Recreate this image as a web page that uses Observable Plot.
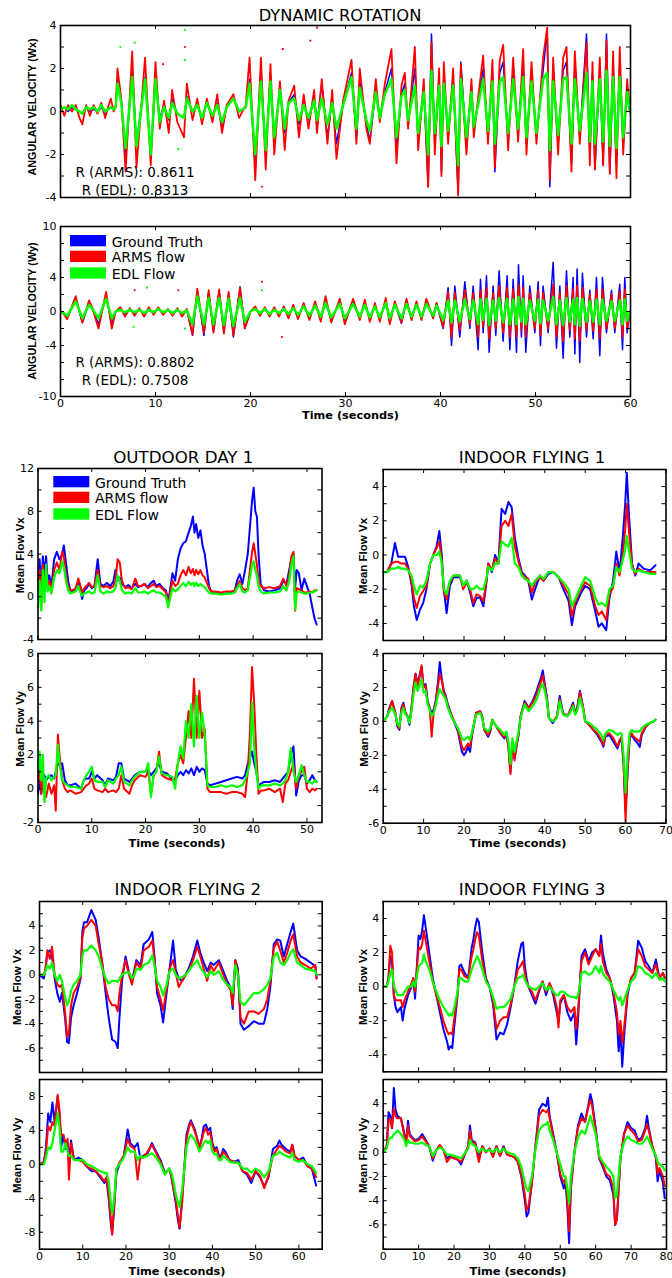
<!DOCTYPE html>
<html><head><meta charset="utf-8">
<script src="https://cdn.jsdelivr.net/npm/d3@7"></script>
<script src="https://cdn.jsdelivr.net/npm/@observablehq/plot@0.6"></script>
<style>
body{margin:0;background:#fff;}
#fig{position:relative;width:672px;height:1278px;background:#fff;font-family:"DejaVu Sans",sans-serif;}
</style></head>
<body><div id="fig"></div>
<script>
// ---------- DYNAMIC ROTATION : Wx ----------
const wxT = [0,0.4,0.8,1.2,1.6,2.0,2.3,2.7,3.1,3.5,3.9,4.3,4.7,5.0,5.3,5.6,
 5.8,6.0,6.4,6.85,7.55,8.0,8.9,9.5,10.0,10.45,
 10.9,11.4,11.75,12.3,13.0,13.3,13.9,14.4,14.9,15.4,
 16.0,16.5,17.0,17.5,18.2,18.8,19.5,19.9,20.5,21.1,
 21.6,22.1,22.5,23.1,23.6,24.0,24.6,25.1,25.6,26.1,
 26.7,27.0,27.5,28.1,28.6,
 29.05,29.75,30.63,31.15,31.5,32.2,32.56,33.19,33.61,34.14,
 34.84,35.37,35.89,36.24,36.59,37.3,37.65,38.24,38.7,39.05,
 39.4,39.86,40.1,40.35,40.8,41.33,41.86,42.14,42.73,43.26,
 43.5,44.0,44.49,45.0,45.47,45.72,46.24,46.6,47.12,47.65,48.17,
 48.7,49.05,49.58,50.1,50.8,51.23,51.51,51.86,52.38,52.91,
 53.26,53.79,54.14,54.66,55.37,55.72,56.0,56.25,56.77,57.12,
 57.47,57.82,58.17,58.52,58.87,59.23,59.65,59.93];
const wxGT = [0.1,0.2,0.0,0.2,0.1,0.0,-0.1,0.2,0.0,0.1,0.0,0.2,-0.1,0.1,0.2,0.1,
 0.2,1.5,0.5,-2.2,2.0,-1.5,1.6,-2.0,1.3,-0.3,
 0.3,-0.4,0.6,-0.1,-0.3,0.7,0.0,0.3,-0.4,0.4,
 -0.2,0.4,-0.8,0.2,0.6,0.0,0.2,1.5,-2.5,1.8,
 -2.0,1.7,-1.3,1.1,-1.0,0.4,0.8,-0.6,0.4,-0.4,
 0.6,-0.6,1.3,-1.2,0.6,
 -1.5,0.3,1.8,-1.2,1.4,-0.5,-1.4,1.0,-0.4,0.9,
 2.0,-1.8,0.8,1.3,-0.5,2.0,-1.4,1.1,-3.5,3.6,
 -1.5,1.5,-2.8,1.8,-1.2,1.5,-3.8,2.3,-1.6,1.2,
 -0.9,0.5,2.0,-1.2,1.8,-2.8,1.8,2.3,-1.4,1.9,-1.1,
 2.2,-1.5,1.8,-1.2,1.9,3.8,-3.5,1.9,-1.5,1.9,
 2.3,-2.4,2.1,-1.2,3.6,-1.9,1.8,-2.7,1.9,-2.5,
 3.6,-2.9,2.1,-2.5,2.3,-1.5,1.1,0.0];
const wxARMS = [0.3,-0.2,0.3,0.0,0.3,-0.3,-0.6,0.3,-0.2,0.3,-0.1,0.4,-0.3,0.2,0.6,0.0,
 0.2,2.0,0.6,-2.8,2.8,-2.6,2.5,-2.5,2.3,-0.8,
 0.5,-1.0,1.0,-0.5,-1.2,1.3,-0.4,0.6,-0.6,0.6,
 -0.5,0.8,-1.0,0.3,0.8,-0.3,0.3,2.5,-3.2,2.5,
 -2.7,2.2,-2.0,1.4,-1.8,0.5,1.2,-1.2,0.8,-0.8,
 1.0,-1.0,1.5,-1.5,1.0,
 -2.2,0.5,2.4,-1.5,2.0,-0.8,-1.5,1.5,-0.5,1.3,
 2.9,-2.4,1.2,1.8,-0.8,3.0,-1.8,1.5,-3.5,3.2,
 -2.0,2.0,-3.0,2.3,-1.5,2.0,-3.9,2.2,-2.0,1.5,
 -1.2,0.8,2.6,-1.5,2.4,-2.6,2.4,3.1,-1.8,2.5,-1.4,
 2.9,-2.0,2.3,-1.5,2.5,3.9,-3.2,2.5,-2.0,2.5,
 3.0,-2.8,2.8,-1.5,3.2,-2.5,2.3,-2.7,2.5,-2.5,
 3.3,-2.9,2.8,-3.1,3.0,-2.0,1.5,0.0];
const wxEDL = [0.1,0.2,0.1,0.3,0.1,0.0,-0.1,0.2,0.1,0.2,0.0,0.3,0.0,0.1,0.2,0.1,
 0.2,1.3,0.4,-1.7,1.6,-1.6,1.5,-2.0,1.5,-0.5,
 0.2,-0.3,0.4,-0.1,-0.3,0.6,0.0,0.3,-0.3,0.4,
 -0.2,0.3,-0.5,0.2,0.6,0.0,0.2,1.3,-2.0,1.4,
 -1.8,1.4,-1.2,1.0,-0.8,0.4,0.6,-0.4,0.3,-0.3,
 0.5,-0.4,0.6,-0.6,0.4,
 -0.8,0.3,1.6,-0.8,1.1,-0.4,-0.9,0.9,-0.3,0.8,
 1.5,-1.2,0.7,1.0,-0.4,1.2,-1.0,0.9,-2.0,1.9,
 -1.0,1.2,-1.6,1.3,-0.9,1.2,-2.5,1.5,-1.2,0.9,
 -0.7,0.4,1.5,-0.9,1.4,-1.5,1.4,1.6,-1.0,1.5,-0.8,
 1.6,-1.2,1.4,-1.0,1.5,1.8,-1.8,1.4,-1.1,1.5,
 1.6,-1.5,1.5,-0.9,1.8,-1.4,1.4,-1.5,1.5,-1.4,
 1.9,-1.6,1.6,-1.7,1.6,-1.2,0.9,0.0];
const wxRedDotT = [10.8,13.1,21.2,23.4,27.0,26.3];
const wxRedDotV = [2.2,3.0,-3.5,2.9,3.9,3.3];
const wxGreenDotT = [6.3,7.8,12.4,13.1,13.1];
const wxGreenDotV = [3.0,3.2,-1.75,3.8,2.4];

// ---------- DYNAMIC ROTATION : Wy ----------
const wyT = [0,0.35,0.7,1.6,2.3,3.0,3.3,4.0,4.8,5.4,5.8,
 6.3,6.8,7.3,7.8,8.3,8.8,9.3,9.8,10.3,10.8,11.3,11.8,12.3,12.8,13.3,
 13.9,14.4,15.1,15.6,16.1,16.7,17.2,17.7,18.2,18.9,19.4,20.0,
 20.5,21.0,21.5,22.0,22.5,23.0,23.5,24.0,24.5,25.0,25.6,26.2,26.8,27.4,27.9,28.5,
 29.4,29.93,30.8,31.5,32.03,32.56,33.1,33.61,34.24,34.66,
 35.19,35.89,36.42,36.95,37.47,38.0,38.52,39.23,39.58,40.28,
 40.8,41.16,41.51,42.03,42.56,43.09,43.44,43.96,44.21,44.49,
 44.84,45.12,45.54,45.82,46.17,46.59,47.01,47.3,47.65,48.0,
 48.21,48.52,48.7,48.98,49.4,49.93,50.28,50.52,50.8,51.33,
 51.86,52.21,52.56,52.91,53.26,53.61,53.96,54.14,54.38,54.66,
 54.94,55.37,55.72,56.07,56.42,56.77,57.05,57.47,58.0,58.35,
 58.87,59.16,59.4,59.65,59.93];
const wyGT = [0.0,-0.3,-0.7,1.5,-1.3,1.0,0.5,-1.5,1.8,-1.5,0.0,
 0.3,-0.3,0.2,-0.2,0.3,-0.4,0.2,-0.2,0.3,-0.2,0.2,-0.3,0.2,-0.3,0.1,
 -2.8,2.4,-2.8,2.3,-2.4,2.4,-2.5,2.1,-3.0,2.9,-2.0,0.0,
 0.4,-0.3,0.3,-0.4,0.3,-0.3,0.4,-0.5,0.5,-0.6,0.8,-0.8,0.9,-0.8,1.3,-1.0,
 1.2,-1.2,1.2,-0.8,1.1,-1.0,0.8,-1.0,1.3,-1.2,
 1.0,-1.4,1.2,-0.8,1.0,-0.9,1.2,-0.8,1.0,-2.0,
 2.8,-4.0,3.0,-3.0,3.5,-2.0,3.0,-4.5,3.8,-2.5,
 4.2,-4.8,3.0,-2.8,4.8,-3.5,4.2,-4.5,3.8,-4.8,
 5.5,-3.0,4.2,-4.8,3.0,-2.5,3.5,-4.0,3.0,-2.5,
 5.8,-4.3,3.0,-5.5,4.8,-3.0,4.0,-5.0,5.0,-6.0,
 4.5,-3.0,2.5,-3.2,4.0,-5.2,4.0,-2.5,2.5,-2.5,
 3.2,-4.5,4.0,-2.5,0.0];
const wyARMS = [0.0,-0.3,-0.9,1.8,-1.3,1.3,0.6,-2.0,2.3,-2.0,0.0,
 0.5,-0.6,0.4,-0.5,0.4,-0.6,0.5,-0.4,0.5,-0.4,0.3,-0.5,0.4,-0.6,0.3,
 -2.7,2.7,-2.5,2.5,-2.5,2.6,-2.6,2.3,-2.8,2.8,-2.0,0.0,
 0.6,-0.5,0.5,-0.6,0.5,-0.6,0.6,-0.8,0.8,-0.9,1.0,-1.0,1.2,-1.2,1.8,-1.3,
 1.5,-1.5,1.5,-1.0,1.4,-1.2,1.0,-1.2,1.6,-1.5,
 1.2,-1.3,1.5,-1.0,1.2,-1.0,1.5,-0.8,1.0,-1.8,
 2.3,-3.0,2.2,-2.2,2.5,-1.5,2.2,-3.0,2.5,-1.8,
 2.8,-3.2,2.2,-2.0,3.0,-2.5,2.8,-3.0,2.6,-3.0,
 3.2,-2.2,2.8,-3.0,2.2,-2.0,2.5,-2.8,2.2,-2.0,
 3.2,-3.0,2.2,-3.5,3.0,-2.2,2.6,-3.2,3.0,-3.5,
 2.8,-2.2,2.0,-2.3,2.6,-3.2,2.6,-2.0,2.0,-2.0,
 2.3,-3.0,2.6,-2.0,0.0];
const wyEDL = [0.0,-0.2,-0.5,1.2,-0.8,0.8,0.4,-0.8,1.5,-0.8,0.0,
 0.2,-0.1,0.2,-0.1,0.2,-0.2,0.2,-0.1,0.3,-0.1,0.2,-0.2,0.2,-0.2,0.1,
 -1.5,1.8,-1.5,1.6,-1.5,1.6,-1.6,1.5,-1.7,1.6,-1.2,0.0,
 0.3,-0.2,0.3,-0.3,0.2,-0.2,0.3,-0.3,0.4,-0.4,0.6,-0.5,0.7,-0.6,1.0,-0.7,
 0.9,-0.8,0.9,-0.6,0.8,-0.7,0.6,-0.7,1.0,-0.8,
 0.8,-0.8,0.9,-0.6,0.8,-0.6,0.9,-0.5,0.7,-1.0,
 1.3,-1.3,1.3,-1.2,1.4,-0.9,1.3,-1.5,1.4,-1.0,
 1.5,-1.6,1.3,-1.1,1.6,-1.3,1.5,-1.5,1.4,-1.5,
 1.7,-1.2,1.5,-1.5,1.3,-1.1,1.4,-1.4,1.3,-1.1,
 1.7,-1.5,1.3,-1.6,1.6,-1.2,1.4,-1.5,1.6,-1.7,
 1.5,-1.2,1.2,-1.2,1.4,-1.5,1.4,-1.1,1.2,-1.1,
 1.3,-1.5,1.4,-1.1,0.0];
const wyRedDotT = [7.8,12.4,21.2,23.3];
const wyRedDotV = [2.5,2.5,3.5,-3.0];
const wyGreenDotT = [7.7,9.1,13.1,21.2];
const wyGreenDotV = [-1.8,2.8,-2.0,2.5];

// ---------- OUTDOOR DAY 1 ----------
const od1VxT = [0,0.3,0.6,0.9,1.2,1.5,1.8,2.1,2.5,3.0,
 3.5,4.0,4.5,4.8,5.2,5.6,6.0,6.5,7.0,7.5,
 7.8,8.2,8.6,9.0,9.5,10.0,10.5,11.1,11.6,12.2,
 12.8,13.4,14.0,14.4,14.8,15.2,15.6,16.2,16.8,17.4,
 18.1,18.6,19.2,19.8,20.4,21.0,21.5,22.0,22.6,23.2,
 23.8,24.2,24.6,25.0,25.5,26.0,26.5,27.0,27.5,28.0,
 28.4,28.8,29.1,29.4,29.8,30.2,30.6,31.0,31.4,31.8,
 32.2,33.0,34.0,35.0,36.0,36.6,37.0,37.5,38.0,38.5,
 39.0,39.4,39.8,40.1,40.4,40.7,41.0,41.4,42.0,43.0,
 44.0,45.0,45.6,46.2,46.7,47.1,47.5,47.8,48.1,48.5,
 49.0,49.5,50.0,50.5,51.0,51.4,51.8];
const od1VxGT = [1.5,3.5,0.5,3.8,2.0,3.8,1.5,2.0,1.0,3.5,
 4.2,3.5,4.0,4.8,3.2,1.5,0.6,0.5,0.8,1.2,
 1.0,-0.2,0.6,0.8,1.2,0.8,1.0,3.5,1.2,1.0,
 1.3,1.0,1.4,2.5,1.5,1.8,1.2,0.9,1.1,0.8,
 1.2,0.9,1.0,1.2,0.9,1.3,1.5,1.0,1.2,0.8,
 0.6,-0.5,0.8,2.2,1.5,3.5,4.5,5.0,5.2,6.0,
 6.6,7.5,6.0,6.8,5.5,6.2,4.8,4.0,2.5,1.0,
 0.5,0.4,0.3,0.3,0.4,0.6,1.5,2.1,1.2,2.5,
 4.0,6.5,9.0,10.2,8.0,7.5,4.0,1.2,0.6,0.5,
 0.6,0.8,1.5,1.2,2.5,3.5,4.0,0.8,2.5,2.2,
 0.6,1.7,1.0,0.3,-1.0,-2.0,-2.6];
const od1VxARMS = [0.5,2.5,-1.0,3.0,0.5,2.8,0.8,1.5,0.5,2.5,
 3.2,2.5,4.2,3.8,2.0,1.0,0.6,0.6,0.8,1.7,
 1.2,0.4,0.8,1.0,1.3,0.9,1.0,2.5,1.0,0.9,
 1.0,0.8,1.0,1.5,3.5,3.2,1.5,0.8,0.9,0.7,
 1.7,1.0,1.0,1.2,0.8,1.0,1.2,0.9,1.0,0.7,
 0.4,-0.8,0.5,1.5,1.0,1.2,2.0,2.5,2.0,2.8,
 2.2,2.6,2.0,2.5,2.1,2.5,2.0,1.8,1.3,0.8,
 0.5,0.5,0.4,0.5,0.5,0.6,1.0,1.5,0.8,0.6,
 0.8,2.5,4.2,5.0,4.0,3.0,1.5,1.0,0.8,0.9,
 0.8,1.0,1.7,1.0,2.0,3.8,4.2,-1.3,0.8,0.7,
 0.6,0.4,0.4,0.5,0.4,0.6,0.6];
const od1VxEDL = [-1.0,1.5,-1.3,2.5,-0.5,3.0,0.5,1.0,0.3,1.8,
 2.5,2.2,3.3,2.8,1.5,0.6,0.3,0.4,0.5,1.0,
 0.5,0.1,0.3,0.4,0.5,0.3,0.4,2.0,0.5,0.3,
 0.5,0.4,0.5,0.8,2.0,1.5,0.6,0.3,0.4,0.3,
 0.8,0.4,0.4,0.5,0.3,0.5,0.6,0.4,0.4,0.2,
 0.0,-1.0,0.0,0.8,0.5,0.7,1.0,1.3,1.0,1.4,
 1.1,1.3,1.0,1.3,1.0,1.2,1.0,0.9,0.6,0.4,
 0.3,0.3,0.2,0.3,0.3,0.4,0.8,1.2,0.5,0.4,
 0.6,1.8,3.0,3.3,2.5,2.0,1.0,0.5,0.3,0.4,
 0.4,0.5,1.0,0.6,1.5,3.0,3.8,-1.2,0.4,0.5,
 0.4,0.3,0.3,0.4,0.4,0.5,0.6];

const od1VyT = [0,0.3,0.6,0.9,1.2,1.5,2.0,2.5,3.0,3.3,
 3.7,4.0,4.5,5.0,5.5,6.0,7.0,8.0,8.5,9.0,
 9.5,10.0,10.5,11.0,12.0,12.5,13.0,14.0,14.5,15.0,
 15.5,16.0,17.0,17.5,18.0,19.0,20.0,20.5,21.0,21.5,
 22.0,22.5,23.0,24.0,25.0,25.5,26.0,26.5,27.0,27.5,
 28.0,28.5,29.0,29.5,30.0,30.5,31.0,31.5,32.0,33.0,
 34.0,35.0,36.0,37.0,38.0,38.5,39.0,39.4,39.8,40.2,
 40.6,41.0,41.5,42.0,43.0,44.0,45.0,45.5,46.0,46.5,
 47.0,47.5,48.0,48.5,49.0,49.5,50.0,50.5,51.0,51.5,
 51.8];
const od1VyGT = [-0.3,0.5,-0.3,0.6,0.8,0.5,0.7,0.8,0.6,1.0,
 1.5,1.4,1.5,0.5,0.2,0.2,0.3,0.0,0.5,0.6,
 0.6,1.0,0.6,0.8,0.5,0.2,0.6,0.5,0.7,1.5,
 1.5,0.6,0.4,0.6,0.8,1.0,1.0,1.1,0.8,1.0,
 1.2,1.5,1.0,0.9,0.5,0.5,0.8,1.0,0.8,1.1,
 0.9,1.2,0.8,1.3,1.0,1.2,1.1,0.3,0.2,0.3,
 0.4,0.5,0.6,0.7,0.6,0.8,1.5,1.8,2.2,1.5,
 1.0,0.2,0.3,0.4,0.4,0.5,0.4,0.6,0.8,1.0,
 2.0,2.5,-0.4,0.5,0.8,0.8,0.3,0.5,0.8,0.5,
 0.4];
const od1VyARMS = [0.2,2.0,-0.3,0.8,0.0,-0.5,0.3,-0.3,0.2,-1.3,
 3.2,2.0,0.5,0.0,-0.2,-0.1,-0.3,-0.2,0.0,0.2,
 0.3,0.6,0.0,-0.1,-0.2,0.0,-0.2,-0.1,-0.2,0.0,
 0.8,0.0,-0.3,0.2,0.5,0.8,0.7,1.0,-0.3,0.8,
 1.0,2.2,0.8,0.6,0.5,0.6,1.5,2.0,1.5,3.0,
 4.6,3.0,6.5,3.0,5.8,3.0,3.5,0.0,-0.2,-0.2,
 -0.2,-0.3,-0.2,-0.2,-0.3,-0.5,1.0,3.3,7.2,5.0,
 2.0,-0.3,-0.1,-0.1,0.0,-0.2,0.0,-0.8,0.3,0.5,
 1.0,1.5,0.0,0.8,1.0,1.3,0.0,-0.2,0.0,-0.1,
 0.0];
const od1VyEDL = [1.0,2.2,0.5,2.0,-0.8,0.6,0.8,0.5,0.7,0.8,
 2.6,1.5,0.5,0.3,0.2,0.1,0.1,0.0,0.5,0.8,
 1.0,1.3,0.5,0.4,0.4,0.1,0.5,0.3,0.6,0.8,
 1.3,0.4,0.2,0.5,0.7,1.0,1.0,1.5,-0.5,0.8,
 1.0,1.9,0.9,0.8,0.7,0.0,1.5,2.5,1.8,4.0,
 3.0,5.0,2.5,5.5,3.0,4.5,3.2,0.2,0.1,0.1,
 0.2,0.1,0.2,0.1,0.2,0.5,1.0,1.5,5.1,2.5,
 1.0,0.0,0.2,0.2,0.2,0.3,0.2,0.3,0.5,1.0,
 2.4,1.0,0.4,0.8,1.4,0.8,0.4,0.4,0.3,0.5,
 0.4];

// ---------- INDOOR FLYING 1 ----------
const if1VxT = [0,1,2,2.9,3.7,4.5,5.4,6.2,7,7.6,
 8.3,9.1,9.9,10.7,11.6,12.4,13.2,13.9,14.5,15,
 15.7,16.5,17.4,18.2,19,19.8,20.7,21.5,22.3,23.1,
 24,24.8,25.6,26,26.9,27.7,28.5,29.3,30.2,31,
 31.8,32.6,33.5,34.3,35.1,35.9,36.8,37.6,38.8,39.7,
 40.9,42.1,43.4,44.6,45.9,46.7,47.5,48.8,50,51.2,
 52.5,53.3,54.1,55.2,56,56.9,57.7,58.5,59.3,59.9,
 60.3,60.8,61.6,62.4,63.2,64.5,66.1,67.4];
const if1VxGT = [-1.0,-1.0,-0.5,0.7,-0.1,-0.1,-0.1,-0.7,-1.7,-3.0,
 -3.8,-3.2,-2.8,-2.0,-0.5,0.0,0.5,1.4,0.0,-2.0,
 -3.4,-1.8,-1.3,-1.3,-1.3,-1.8,-1.5,-2.2,-3.0,-2.5,
 -2.5,-3.0,-1.5,-0.5,-1.0,0.0,-0.5,2.7,2.4,3.1,
 2.8,1.0,-0.2,-1.0,-1.2,-1.5,-2.6,-2.0,-1.2,-1.5,
 -1.1,-1.0,-1.3,-2.0,-2.7,-4.1,-3.0,-2.3,-1.8,-2.0,
 -3.3,-4.2,-4.0,-4.4,-2.5,-1.5,0.2,-1.0,1.0,3.0,
 4.8,2.5,-0.5,-1.2,-0.5,-0.8,-0.9,-0.6];
const if1VxARMS = [-1.0,-1.0,-0.5,-0.4,-0.4,-0.5,-0.5,-0.8,-1.5,-2.5,
 -3.1,-2.4,-2.1,-1.8,-0.5,0.0,0.4,0.8,-0.3,-2.1,
 -2.6,-1.6,-1.2,-1.2,-1.2,-2.0,-1.6,-2.0,-2.8,-2.3,
 -2.4,-2.7,-1.4,-0.5,-0.9,-0.2,-0.5,1.7,2.0,1.7,
 2.4,0.5,-0.4,-1.1,-1.3,-1.4,-2.2,-1.6,-1.3,-1.5,
 -1.0,-1.0,-1.3,-1.8,-2.3,-3.6,-2.8,-2.1,-1.6,-1.8,
 -3.0,-3.5,-3.3,-3.8,-2.3,-1.9,-0.5,-1.2,0.0,1.5,
 3.0,1.5,-0.6,-1.1,-0.8,-1.0,-1.0,-1.0];
const if1VxEDL = [-1.0,-1.0,-0.8,-0.8,-0.7,-0.8,-0.8,-0.9,-1.2,-1.8,
 -2.3,-1.8,-1.9,-1.5,-0.5,0.0,0.0,0.2,-0.5,-2.0,
 -2.3,-1.5,-1.2,-1.2,-1.2,-1.8,-1.5,-2.0,-2.0,-1.8,
 -2.0,-2.0,-1.3,-0.7,-0.9,-0.5,-0.5,0.8,0.6,0.5,
 1.0,-0.5,-0.7,-1.2,-1.4,-1.5,-1.8,-1.5,-1.2,-1.4,
 -1.0,-1.0,-1.3,-1.6,-2.0,-3.0,-2.6,-1.9,-1.3,-1.5,
 -2.5,-2.9,-2.8,-3.0,-2.0,-1.8,-0.7,-1.0,-0.3,0.3,
 1.1,0.3,-0.8,-1.0,-0.9,-1.0,-1.1,-1.1];

const if1VyT = [0,1,1.5,2.2,3,3.5,4,4.5,5,5.5,
 6,6.5,7,7.5,8,8.5,9,9.5,10,10.5,
 11,11.5,12,12.5,13,13.5,14,14.5,15,15.5,
 16,17,18,18.5,19,19.5,20,20.5,21,21.5,
 22,23,24,24.5,25,26,26.5,27,28,29,
 30,30.5,31,31.5,32,32.5,33,33.5,34,35,
 36,37,38,38.5,39,39.5,40,40.5,41,42,
 43,43.7,44.5,45.5,46,47,47.5,48,48.7,49.5,
 50,51,52,53,54,54.5,55,56,57,58,
 58.5,59,59.5,60,60.5,61,61.5,62,63,63.5,
 64,65,66,67,67.4];
const if1VyGT = [0.0,0.3,0.8,1.2,0.5,-0.3,-0.5,0.8,1.1,0.5,
 0.3,-0.2,0.8,2.0,2.8,2.2,2.7,3.2,2.0,2.2,
 1.2,0.8,0.5,0.7,1.2,2.2,3.5,2.5,1.8,1.5,
 1.0,0.3,-0.3,-0.6,-1.2,-1.8,-2.0,-1.8,-1.5,-1.8,
 -0.8,0.5,0.6,0.3,-0.5,-0.9,-0.6,0.1,-0.3,-0.7,
 -1.0,-0.7,-1.5,-3.0,-1.2,-2.2,-1.5,-0.8,0.3,1.2,
 0.8,1.2,1.8,2.2,2.5,3.0,2.2,1.5,0.2,-0.1,
 0.3,1.5,0.5,0.3,0.5,1.1,0.5,0.8,1.8,0.8,
 0.0,-0.2,-0.5,-0.8,-1.2,-1.5,-0.9,-0.8,-1.2,-1.6,
 -1.2,-1.0,-2.5,-5.3,-3.0,-1.0,-0.8,-1.0,-1.3,-1.5,
 -0.8,-0.3,-0.1,0.0,0.1];
const if1VyARMS = [0.0,0.3,0.7,1.2,0.5,-0.2,-0.4,0.7,1.0,0.5,
 0.3,-0.1,0.8,2.0,2.8,2.1,2.6,3.3,2.0,2.1,
 1.1,0.8,-0.9,0.6,1.1,2.0,2.8,2.4,1.7,1.4,
 0.9,0.3,-0.2,-0.5,-1.0,-1.5,-1.7,-1.5,-1.3,-1.5,
 -0.7,0.5,0.6,0.3,-0.5,-0.8,-0.5,0.1,-0.3,-0.7,
 -0.9,-0.7,-1.5,-3.1,-1.2,-2.3,-1.4,-0.8,0.3,1.1,
 0.8,1.1,1.6,2.0,2.3,2.7,2.0,1.4,0.2,0.0,
 0.3,1.3,0.5,0.3,0.5,1.0,0.5,0.7,1.7,0.8,
 0.0,-0.2,-0.5,-0.7,-1.1,-1.4,-0.8,-0.7,-1.0,-1.5,
 -1.1,-0.9,-2.5,-5.9,-2.8,-0.9,-0.7,-0.9,-1.1,-1.2,
 -0.7,-0.3,-0.1,0.0,0.1];
const if1VyEDL = [0.0,0.3,0.6,0.8,0.4,-0.1,-0.3,0.5,0.8,0.4,
 0.3,-0.1,0.6,1.6,2.3,1.8,2.1,2.5,1.7,1.8,
 1.0,0.7,0.3,0.5,0.9,1.5,1.9,1.7,1.5,1.3,
 0.8,0.2,-0.2,-0.4,-0.7,-1.0,-1.1,-1.0,-0.9,-1.1,
 -0.6,0.4,0.5,0.2,-0.4,-0.6,-0.4,0.1,-0.3,-0.5,
 -0.8,-0.6,-1.2,-2.5,-1.0,-1.8,-1.2,-0.6,0.2,1.0,
 0.6,0.9,1.3,1.7,2.0,2.2,1.8,1.2,0.2,0.0,
 0.2,1.2,0.4,0.3,0.4,0.9,0.4,0.6,1.4,0.7,
 0.0,-0.1,-0.3,-0.5,-0.8,-1.1,-0.7,-0.5,-0.6,-0.8,
 -0.7,-0.7,-2.0,-4.2,-2.0,-0.7,-0.5,-0.6,-0.6,-0.6,
 -0.4,-0.2,-0.1,0.0,0.1];

// ---------- INDOOR FLYING 2 ----------
const if2VxT = [0,1,1.4,1.8,2.4,2.9,3.5,4.1,4.7,5.2,
 5.9,6.4,6.8,7.3,7.9,8.7,9.5,9.9,10.3,11,
 12,13,13.7,14.5,15.3,16,16.8,17.6,18.1,18.5,
 19.1,19.9,20.7,21.4,22,22.4,23.4,24.1,25.3,26.1,
 26.6,27.2,28,28.6,29.4,30.1,30.9,31.5,32.2,33,
 33.8,34.5,35.5,36.5,37.2,38,38.8,39.6,40.3,41.5,
 42.3,43.4,44.2,44.7,45.3,45.9,46.5,47.3,48.4,49.6,
 50.7,51.9,52.7,53.4,54.2,55,55.7,56.5,57.3,58.1,
 58.7,59.6,60.4,61.5,62.7,63.8,64.1];
const if2VxGT = [0.0,-0.3,0.5,1.8,2.0,1.5,-0.3,-1.5,-2.2,-1.5,
 -3.5,-5.5,-5.6,-3.5,-2.5,-1.5,-0.3,3.5,4.3,4.3,
 5.3,4.5,3.0,1.0,-1.5,-3.5,-5.3,-5.5,-6.0,-3.5,
 -0.5,1.5,0.2,-0.5,0.5,1.2,0.8,2.5,2.9,3.5,
 1.5,-1.5,-2.5,-3.9,-1.5,0.5,2.8,0.5,-0.3,-0.5,
 0.0,0.5,1.5,2.8,1.8,1.0,0.3,1.0,0.8,1.2,
 0.5,-0.5,-1.0,-2.8,1.2,0.5,-4.0,-4.5,-4.2,-3.8,
 -4.0,-4.0,-2.8,-1.0,2.5,2.9,2.8,1.5,2.5,3.5,
 4.2,2.0,1.5,1.3,1.0,0.7,-0.3];
const if2VxARMS = [0.0,0.0,0.5,2.0,1.3,2.3,0.0,-0.8,-1.0,-0.8,
 -3.0,-5.1,-4.8,-2.5,-1.5,-1.0,-0.2,3.0,3.8,4.0,
 4.5,4.0,2.5,1.0,-1.0,-2.0,-2.5,-2.5,-3.0,-1.5,
 0.0,1.2,0.0,-0.8,0.3,1.0,0.5,2.0,2.3,2.8,
 1.2,-1.0,-2.0,-2.9,-1.2,0.5,1.2,0.2,-1.0,-0.5,
 0.0,0.3,1.2,2.3,1.5,0.5,-0.5,0.8,0.3,1.0,
 0.2,-0.8,-1.2,-2.5,1.2,0.3,-3.5,-4.0,-3.0,-3.0,
 -3.2,-2.8,-2.0,-0.5,2.2,2.7,2.0,1.0,1.8,2.8,
 3.3,1.5,1.0,0.8,0.5,0.8,-0.3];
const if2VxEDL = [0.0,0.0,0.3,0.8,0.5,1.0,0.0,-0.5,0.0,-0.5,
 -1.8,-2.5,-2.2,-1.3,-0.8,-0.5,0.0,1.5,2.0,2.0,
 2.4,2.0,1.5,0.5,-0.3,-0.7,-0.5,-0.5,-0.6,-0.3,
 0.0,0.2,0.2,-0.3,0.0,0.5,0.4,0.8,1.0,1.6,
 0.8,-0.5,-1.0,-1.7,-0.8,0.3,0.5,0.0,-0.3,-0.2,
 0.0,0.3,0.8,1.2,0.6,0.2,-0.2,0.3,0.0,0.3,
 -0.3,-0.8,-1.0,-1.5,0.8,0.0,-2.2,-2.5,-2.0,-1.5,
 -1.5,-1.2,-0.8,-0.3,1.5,1.8,1.0,0.8,1.2,1.8,
 2.1,1.0,0.8,0.5,0.4,0.3,0.0];

const if2VyT = [0,1,1.5,2,2.5,3,3.5,4.2,4.6,5,
 5.5,6,6.5,6.8,7.3,8,9,10,11,12,
 13,14,15,15.5,16,16.5,16.8,17.3,17.8,18.5,
 19.5,20.4,21,22,22.7,23.3,24,25,26,27,
 28,29,29.5,30,30.5,31,31.5,32,32.4,33,
 33.5,34,34.5,35,36,37,37.5,38,38.5,39,
 39.5,40,40.5,41,41.5,42,42.5,43,44,45,
 46,47,48,49,50,51,52,53,54,55,
 55.5,56,57,58,58.5,59,60,61,62,63,
 64];
const if2VyGT = [0.0,0.3,2.0,6.0,5.0,7.3,5.0,8.0,6.0,2.0,
 3.5,1.8,2.5,0.5,2.8,0.5,0.8,0.5,-0.3,-0.8,
 -0.8,-1.5,-2.2,-1.8,-4.0,-7.0,-8.2,-5.0,-1.0,0.0,
 1.0,4.1,2.5,2.0,2.5,0.8,1.0,1.3,2.5,1.5,
 0.5,-1.0,-0.8,-0.5,-1.5,-3.0,-4.5,-6.5,-7.6,-4.0,
 -0.5,3.5,4.5,5.2,4.0,2.0,3.0,4.5,4.7,4.0,
 4.3,2.5,1.8,2.0,1.0,1.0,1.8,1.5,0.5,0.3,
 0.5,-0.8,-1.2,-2.2,-0.8,-1.5,-2.6,-1.5,1.8,2.2,
 2.8,2.3,1.8,1.5,2.3,1.0,0.5,0.8,-0.2,-0.5,
 -2.5];
const if2VyARMS = [0.0,0.3,1.5,4.5,4.0,5.0,4.5,8.2,6.5,3.5,
 3.5,2.5,3.0,-1.8,2.5,0.5,0.5,0.3,-0.3,-0.5,
 -0.8,-1.3,-2.0,-1.5,-3.5,-6.5,-8.3,-4.5,-0.5,0.2,
 1.0,3.0,2.2,1.8,-1.8,0.8,0.8,1.5,2.3,1.3,
 0.3,-1.2,-0.8,-0.5,-1.3,-2.8,-4.0,-6.0,-7.5,-4.5,
 -0.5,3.0,4.2,5.0,3.8,2.0,2.8,3.8,4.3,3.5,
 3.8,2.2,1.5,1.8,0.8,0.8,1.5,1.2,0.5,0.3,
 0.2,-0.8,-1.0,-1.8,-0.8,-1.3,-2.8,-1.3,1.0,1.8,
 2.2,2.0,1.5,1.3,2.3,1.0,0.5,0.5,-0.2,-0.5,
 -1.5];
const if2VyEDL = [0.0,0.0,0.8,2.0,1.8,2.5,4.0,6.0,4.5,1.5,
 1.5,2.5,1.5,1.0,1.0,0.5,0.5,0.5,0.0,-0.2,
 -0.5,-0.8,-1.0,-1.0,-2.0,-4.5,-5.8,-4.0,-0.5,0.0,
 0.8,2.0,1.5,1.5,0.5,1.0,0.8,1.0,1.3,0.8,
 0.0,-1.2,-0.8,-0.5,-1.0,-2.0,-3.5,-4.5,-5.0,-3.0,
 -0.5,2.0,3.0,3.5,2.8,1.5,2.0,2.5,2.8,2.5,
 2.8,1.5,1.2,1.2,0.5,0.5,1.0,0.8,0.3,0.2,
 0.2,-0.5,-0.5,-1.0,-0.5,-0.8,-1.5,-0.8,1.0,1.2,
 1.5,1.3,1.0,0.8,1.3,0.5,0.3,0.5,0.0,-0.2,
 -1.0];

// ---------- INDOOR FLYING 3 ----------
const if3VxT = [0,1,1.5,2,2.5,3,3.5,4,5,5.5,
 6,7,8,8.5,9,10,10.5,11,11.5,12,
 13,14,15,16,17,18,18.5,19,19.5,20,
 21,21.5,22,23,24,25,25.5,26,26.5,27,
 28,29,30,31,32,33,34,35,36,37,
 38,39,39.5,40,40.5,41,42,43,44,45,
 46,47,48,49,49.5,50,51,52,53,54,
 54.5,55,55.5,56,57,58,59,60,61,61.5,
 62,63,64,65,66,66.5,67,67.5,68,69,
 70,71,72,73,74,75,76,77,78,79,
 79.5];
const if3VxGT = [0.0,0.0,0.5,1.8,1.5,-0.5,-1.2,-1.5,-1.2,-2.0,
 -1.3,-0.5,0.0,0.5,-0.7,3.0,2.8,3.3,4.2,3.5,
 2.0,0.5,-0.5,-1.5,-2.5,-3.2,-3.7,-3.5,-3.6,-2.5,
 -0.5,1.2,1.3,0.8,0.5,2.3,2.8,3.5,4.0,3.8,
 2.0,0.5,0.0,-1.0,-3.1,-2.7,-2.8,-2.2,-1.2,0.0,
 1.5,2.5,2.6,1.2,0.5,0.0,-0.5,-1.0,-0.3,0.3,
 -0.5,0.2,-0.5,-1.5,-2.0,-1.0,-0.5,-1.5,-2.0,-1.5,
 -3.4,-2.0,0.0,1.8,2.2,1.5,2.0,2.2,1.8,3.0,
 2.0,1.0,0.5,-0.5,-2.0,-3.8,-2.5,-4.7,-3.0,-0.5,
 0.5,0.8,2.7,2.3,1.5,1.2,0.8,1.6,0.5,0.8,
 0.5];
const if3VxARMS = [0.0,0.0,0.5,2.4,2.0,-0.5,-0.8,-0.8,-0.8,-1.2,
 -0.8,-0.3,0.2,0.5,-0.3,2.3,2.2,2.5,3.3,2.7,
 1.5,0.3,-0.5,-1.2,-2.0,-2.6,-2.8,-2.7,-2.8,-2.0,
 -0.4,1.0,1.0,0.6,0.5,1.8,2.2,2.8,3.2,3.0,
 1.5,0.4,0.0,-0.8,-2.5,-2.0,-1.8,-1.8,-1.0,0.0,
 1.0,1.3,1.5,0.8,0.3,0.0,-0.3,-0.8,-0.2,0.3,
 -0.3,0.2,-0.3,-1.2,-2.4,-0.8,-0.5,-1.2,-1.5,-1.2,
 -2.5,-1.5,0.0,1.5,2.0,1.3,1.8,2.2,1.8,2.5,
 1.5,0.8,0.5,-0.3,-1.5,-2.8,-2.0,-3.3,-2.5,-0.3,
 0.5,0.8,2.2,1.8,1.2,1.0,0.8,1.3,0.5,0.8,
 0.5];
const if3VxEDL = [0.0,0.0,0.3,0.8,1.0,0.0,-0.2,-0.5,-0.5,-0.5,
 -0.3,0.0,0.0,0.3,0.0,1.2,1.3,1.4,1.9,1.5,
 1.0,0.3,-0.3,-0.8,-1.2,-1.5,-1.7,-1.6,-1.7,-1.3,
 -0.3,0.5,0.5,0.3,0.3,1.0,1.3,1.5,1.8,1.6,
 1.0,0.3,0.0,-0.6,-1.3,-1.2,-1.2,-1.0,-0.7,0.0,
 0.5,0.6,0.7,0.4,0.2,0.0,-0.1,-0.2,0.0,0.2,
 -0.2,0.0,-0.3,-0.5,-0.5,-0.3,-0.3,-0.5,-0.6,-0.6,
 -0.7,-0.5,0.0,0.8,0.9,0.7,0.8,1.2,0.8,1.2,
 0.8,0.5,0.3,-0.2,-0.6,-0.8,-0.6,-1.1,-0.8,-0.2,
 0.3,0.5,1.2,1.1,0.8,0.7,0.5,0.8,0.4,0.5,
 0.3];

const if3VyT = [0,1,1.5,2,2.5,3,3.5,4,5,6,
 6.5,7,7.5,8,9,10,11,12,13,14,
 15,16,17,18,19,20,21,22,23,24,
 24.5,25,26,27,28,29,30,31,32,33,
 34,35,36,37,38,39,40,40.5,41,42,
 43,44,45,46,46.5,47,48,49,50,51,
 51.5,52,52.5,53,54,55,56,57,58,58.5,
 59,60,61,62,63,64,65,65.5,66,67,
 68,69,70,71,72,73,74,74.5,75,76,
 77,77.5,78,79,79.5];
const if3VyGT = [0.0,0.5,3.3,3.0,2.0,5.3,3.5,3.0,2.8,1.5,
 0.8,2.6,1.5,1.3,1.0,1.1,1.5,1.0,0.5,-0.7,
 0.2,0.5,0.2,-0.5,-0.3,-0.5,-0.6,-1.0,-0.2,0.5,
 2.2,1.0,0.8,-0.4,0.5,0.0,0.3,-0.2,0.5,-0.3,
 0.5,-0.2,-0.3,-0.4,-0.8,-2.0,-4.0,-5.3,-5.0,-2.5,
 0.5,3.5,4.0,3.8,4.5,3.0,1.5,0.0,-2.0,-3.0,
 -2.5,-4.5,-7.5,-3.0,0.0,2.2,3.2,2.5,4.0,4.8,
 4.2,2.0,-0.5,-1.2,-2.0,-2.3,-3.5,-6.0,-5.5,-0.5,
 1.5,2.5,2.0,1.8,1.0,1.2,2.0,3.0,2.0,0.5,
 -0.5,-2.4,-1.5,-2.5,-3.8];
const if3VyARMS = [0.0,0.5,2.5,2.8,2.0,3.6,3.0,2.8,2.8,1.3,
 0.8,2.2,1.3,1.2,0.9,1.0,1.3,0.9,0.5,-0.5,
 0.2,0.6,0.2,-0.8,-0.4,-0.5,-0.6,-0.8,-0.2,0.5,
 1.8,0.9,0.7,-0.8,0.5,0.0,0.3,-0.4,0.5,-0.3,
 0.4,-0.2,-0.3,-0.4,-0.8,-1.8,-3.5,-4.8,-4.5,-2.5,
 0.5,3.0,3.5,3.3,3.5,2.8,1.3,0.0,-1.8,-2.5,
 -2.2,-4.0,-6.5,-2.8,0.0,2.0,2.8,2.5,3.8,4.3,
 3.8,1.8,-0.5,-1.0,-1.8,-2.0,-3.0,-6.0,-5.5,-0.5,
 1.5,2.2,1.8,1.5,0.9,1.0,1.8,2.3,1.8,0.5,
 -0.3,-1.8,-1.3,-2.0,-2.8];
const if3VyEDL = [0.0,0.3,1.0,1.2,1.2,1.5,1.6,1.8,1.5,1.0,
 0.5,1.0,0.8,0.8,0.7,0.7,0.8,0.6,0.5,-0.3,
 0.2,0.4,0.2,-0.2,-0.2,-0.3,-0.4,-0.5,-0.1,0.3,
 1.0,0.7,0.5,0.0,0.3,0.1,0.2,0.0,0.3,0.0,
 0.3,0.0,-0.1,-0.2,-0.5,-1.2,-2.5,-3.0,-3.2,-2.0,
 0.2,1.8,2.2,2.3,2.5,1.8,1.0,0.0,-1.0,-2.0,
 -2.0,-3.0,-4.2,-2.0,0.0,1.2,1.8,1.5,2.5,3.0,
 2.5,1.5,-0.3,-0.8,-1.2,-1.5,-2.0,-3.8,-3.5,-0.3,
 0.8,1.3,1.0,0.9,0.7,0.7,1.0,1.3,1.0,0.3,
 -0.3,-0.8,-1.0,-1.2,-1.5];

// ---------- tick values & labels ----------
const ticks0to60 = [0,10,20,30,40,50,60];
const ticks0to50 = [0,10,20,30,40,50];
const ticks0to70 = [0,10,20,30,40,50,60,70];
const ticks0to80 = [0,10,20,30,40,50,60,70,80];
const wxYTicks = [-4,-3,-2,-1,0,1,2,3,4], wxYLabels = [-4,-2,0,2,4];
const wyYTicks = [-10,-8,-6,-4,-2,0,2,4,6,8,10], wyYLabels = [-10,-4,0,4,10];
const od1VxYTicks = [-4,-2,0,2,4,6,8,10,12], od1VxYLabels = [-4,0,4,8,12];
const od1VyYTicks = [-2,-1,0,1,2,3,4,5,6,7,8], od1VyYLabels = [-2,0,2,4,6,8];
const if1VxYTicks = [-5,-4,-3,-2,-1,0,1,2,3,4,5], if1VxYLabels = [-4,-2,0,2,4];
const if1VyYTicks = [-6,-5,-4,-3,-2,-1,0,1,2,3,4], if1VyYLabels = [-6,-4,-2,0,2,4];
const if2VxYTicks = [-8,-7,-6,-5,-4,-3,-2,-1,0,1,2,3,4,5,6], if2VxYLabels = [-6,-4,-2,0,2,4];
const if2VyYTicks = [-10,-8,-6,-4,-2,0,2,4,6,8,10], if2VyYLabels = [-8,-4,0,4,8];
const if3VxYTicks = [-5,-4,-3,-2,-1,0,1,2,3,4,5], if3VxYLabels = [-4,-2,0,2,4];
const if3VyYTicks = [-8,-7,-6,-5,-4,-3,-2,-1,0,1,2,3,4,5,6], if3VyYLabels = [-6,-4,-2,0,2,4];

const seriesNames = ["Ground Truth", "ARMS flow", "EDL Flow"];
const seriesColors = ["#0000ff", "#ff0000", "#00ff00"];

// ---------- drawing ----------
const fig = document.getElementById("fig");
function rows(t, v) { return t.map((x, i) => ({t: x, v: v[i]})).filter(d => d.v != null); }

function panel(p) {
  const colLeft = p.col === "R" ? 336 : 0;
  const colW = p.col === "W" ? 672 : 336;
  const padT = 10, padB = 28;
  const plotW = p.fr - p.fl, plotH = p.fb - p.ft;
  const [x0, x1] = p.xd, [y0, y1] = p.yd;
  const tl = 4;
  const dx = tl * (x1 - x0) / plotW, dy = tl * (y1 - y0) / plotH;
  const marks = [];
  p.lines.forEach((v, i) => marks.push(Plot.line(rows(p.t, v), {x: "t", y: "v", stroke: seriesColors[i], strokeWidth: p.sw[i], clip: true})));
  (p.dots || []).forEach(d => marks.push(Plot.dot(rows(d.t, d.v), {x: "t", y: "v", r: 1.1, fill: seriesColors[d.k], stroke: null, clip: true})));
  marks.push(Plot.ruleY(p.yt, {y: d => d, x1: x0, x2: x0 + dx, stroke: "black"}));
  marks.push(Plot.ruleY(p.yt, {y: d => d, x1: x1 - dx, x2: x1, stroke: "black"}));
  marks.push(Plot.ruleX(p.xt, {x: d => d, y1: y0, y2: y0 + dy, stroke: "black"}));
  marks.push(Plot.ruleX(p.xt, {x: d => d, y1: y1 - dy, y2: y1, stroke: "black"}));
  marks.push(Plot.axisY({ticks: p.yl, anchor: "left", tickSize: 0, tickPadding: 4, tickFormat: d => String(d), label: null}));
  if (p.xl) marks.push(Plot.axisX({ticks: p.xl, anchor: "bottom", tickSize: 0, tickPadding: 3, tickFormat: d => String(d), label: null}));
  marks.push(Plot.frame({stroke: "black", strokeWidth: 1.6}));
  const svg = Plot.plot({
    width: colW, height: plotH + padT + padB,
    marginLeft: p.fl - colLeft, marginRight: colLeft + colW - p.fr, marginTop: padT, marginBottom: padB,
    x: p.xl ? {domain: p.xd} : {domain: p.xd, axis: null},
    y: {domain: p.yd},
    style: {fontFamily: '"DejaVu Sans", sans-serif', fontSize: "11px", background: "transparent", overflow: "visible", color: "black"},
    marks
  });
  svg.style.position = "absolute";
  svg.style.left = colLeft + "px";
  svg.style.top = (p.ft - padT) + "px";
  fig.appendChild(svg);
}

const dynW = [1.5, 1.8, 2.5], flowW = [2, 2, 2.2];
panel({col: "W", fl: 60, fr: 630, ft: 25, fb: 197, xd: [0, 60], yd: [-4, 4], t: wxT, lines: [wxGT, wxARMS, wxEDL], sw: dynW,
  dots: [{k: 1, t: wxRedDotT, v: wxRedDotV}, {k: 2, t: wxGreenDotT, v: wxGreenDotV}],
  xt: ticks0to60, yt: wxYTicks, yl: wxYLabels});
panel({col: "W", fl: 60, fr: 630, ft: 226, fb: 396, xd: [0, 60], yd: [-10, 10], t: wyT, lines: [wyGT, wyARMS, wyEDL], sw: dynW,
  dots: [{k: 1, t: wyRedDotT, v: wyRedDotV}, {k: 2, t: wyGreenDotT, v: wyGreenDotV}],
  xt: ticks0to60, yt: wyYTicks, yl: wyYLabels, xl: ticks0to60});
panel({col: "L", fl: 37.5, fr: 321.5, ft: 468, fb: 639, xd: [0, 52.8], yd: [-4, 12], t: od1VxT, lines: [od1VxGT, od1VxARMS, od1VxEDL], sw: flowW,
  xt: ticks0to50, yt: od1VxYTicks, yl: od1VxYLabels});
panel({col: "L", fl: 37.5, fr: 321.5, ft: 653, fb: 822, xd: [0, 52.8], yd: [-2, 8], t: od1VyT, lines: [od1VyGT, od1VyARMS, od1VyEDL], sw: flowW,
  xt: ticks0to50, yt: od1VyYTicks, yl: od1VyYLabels, xl: ticks0to50});
panel({col: "R", fl: 382.7, fr: 665.5, ft: 469, fb: 640, xd: [0, 70], yd: [-5, 5], t: if1VxT, lines: [if1VxGT, if1VxARMS, if1VxEDL], sw: flowW,
  xt: ticks0to70, yt: if1VxYTicks, yl: if1VxYLabels});
panel({col: "R", fl: 382.7, fr: 665.5, ft: 653, fb: 822.7, xd: [0, 70], yd: [-6, 4], t: if1VyT, lines: [if1VyGT, if1VyARMS, if1VyEDL], sw: flowW,
  xt: ticks0to70, yt: if1VyYTicks, yl: if1VyYLabels, xl: ticks0to70});
panel({col: "L", fl: 39, fr: 321.7, ft: 900.7, fb: 1071.7, xd: [0, 65.4], yd: [-8, 6], t: if2VxT, lines: [if2VxGT, if2VxARMS, if2VxEDL], sw: flowW,
  xt: ticks0to60, yt: if2VxYTicks, yl: if2VxYLabels});
panel({col: "L", fl: 39, fr: 321.7, ft: 1079.3, fb: 1249, xd: [0, 65.4], yd: [-10, 10], t: if2VyT, lines: [if2VyGT, if2VyARMS, if2VyEDL], sw: flowW,
  xt: ticks0to60, yt: if2VyYTicks, yl: if2VyYLabels, xl: ticks0to60});
panel({col: "R", fl: 382.7, fr: 666, ft: 900.7, fb: 1071, xd: [0, 80], yd: [-5, 5], t: if3VxT, lines: [if3VxGT, if3VxARMS, if3VxEDL], sw: flowW,
  xt: ticks0to80, yt: if3VxYTicks, yl: if3VxYLabels});
panel({col: "R", fl: 382.7, fr: 666, ft: 1079.3, fb: 1249, xd: [0, 80], yd: [-8, 6], t: if3VyT, lines: [if3VyGT, if3VyARMS, if3VyEDL], sw: flowW,
  xt: ticks0to80, yt: if3VyYTicks, yl: if3VyYLabels, xl: ticks0to80});

// ---------- text overlay ----------
const ov = d3.select(fig).append("svg").attr("width", 672).attr("height", 1278)
  .style("position", "absolute").style("left", "0px").style("top", "0px").style("pointer-events", "none")
  .attr("font-family", '"DejaVu Sans", sans-serif');
function txt(x, y, s, o = {}) {
  const t = ov.append("text")
    .attr("transform", `translate(${x},${y})` + (o.rotate ? ` rotate(${o.rotate})` : ""))
    .attr("font-size", o.size || 11).attr("text-anchor", o.anchor || "start")
    .attr("font-weight", o.weight || "normal").attr("fill", "black").text(s);
  if (o.family) t.attr("font-family", o.family);
  if (o.dy) t.attr("dy", o.dy);
  return t;
}
const titles = [["DYNAMIC ROTATION", 340, 20.7, 16.3], ["OUTDOOR DAY 1", 183.3, 463.3, 16.7], ["INDOOR FLYING 1", 532, 463.3, 16.7],
  ["INDOOR FLYING 2", 187.8, 895, 16.7], ["INDOOR FLYING 3", 532, 895, 16.7]];
titles.forEach(([s, x, y, f]) => txt(x, y, s, {size: f, anchor: "middle"}));

const ylabs = [["ANGULAR VELOCITY (Wx)", 31.7, 107, 10.8], ["ANGULAR VELOCITY (Wy)", 32, 311, 10.8],
  ["Mean Flow Vx", 20, 555.3, 11.5], ["Mean Flow Vy", 20, 729, 11.5],
  ["Mean Flow Vx", 362.7, 556, 11.5], ["Mean Flow Vy", 364.3, 729, 11.5],
  ["Mean Flow Vx", 17.3, 987, 11.5], ["Mean Flow Vy", 17.3, 1155.3, 11.5],
  ["Mean Flow Vx", 362.7, 987, 11.5], ["Mean Flow Vy", 362.7, 1155.3, 11.5]];
ylabs.forEach(([s, x, y, f]) => txt(x, y, s, {size: f, anchor: "middle", weight: "bold", rotate: -90, dy: "0.36em", family: '"Liberation Sans", Arial, sans-serif'}));

const xlabs = [[350.5, 419], [177, 846.5], [518, 846.5], [177, 1274.5], [518, 1274.5]];
xlabs.forEach(([x, y]) => txt(x, y, "Time (seconds)", {size: 11.3, anchor: "middle", weight: "bold"}));

const rtexts = [["R (ARMS): 0.8611", 176.7], ["R (EDL): 0.8313", 194.5], ["R (ARMS): 0.8802", 366.7], ["R (EDL): 0.7508", 385]];
rtexts.forEach(([s, y]) => txt(135, y, s, {size: 13.5, anchor: "middle"}));

function legend(px, tx, tops, bases) {
  seriesNames.forEach((n, i) => {
    ov.append("rect").attr("x", px).attr("y", tops[i]).attr("width", 36).attr("height", 11.3).attr("fill", seriesColors[i]);
    txt(tx, bases[i], n, {size: 14});
  });
}
legend(70, 111.7, [235, 250.7, 267.3], [247.3, 262.3, 279]);
legend(53.3, 95, [476, 491.7, 508.3], [488.3, 503.3, 520]);
</script>
</body></html>
